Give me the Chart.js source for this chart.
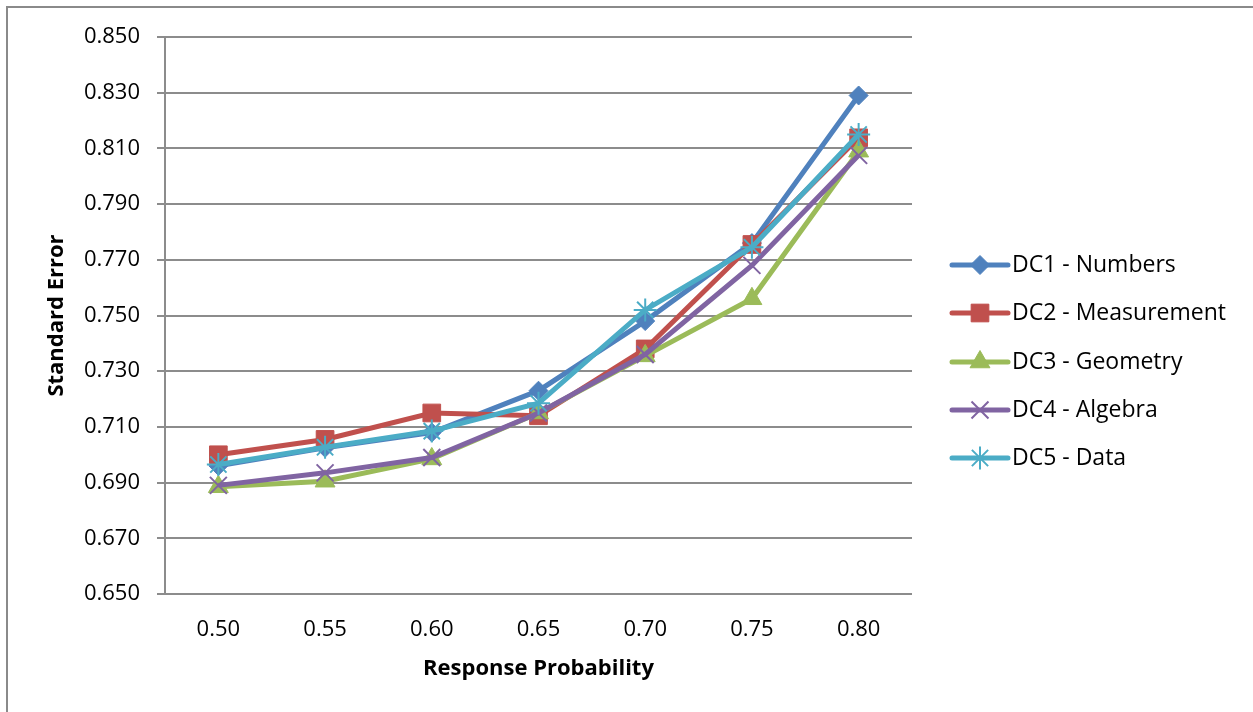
<!DOCTYPE html>
<html>
<head>
<meta charset="utf-8">
<script src="https://cdn.jsdelivr.net/npm/chart.js@4.4.0/dist/chart.umd.min.js"></script>
<style>
  html, body { margin: 0; padding: 0; background: #ffffff; }
  #wrap { width: 1253px; height: 712px; position: relative; }
</style>
</head>
<body>
<div id="wrap"><canvas id="c" width="1253" height="712"></canvas></div>
<script>
// Response probabilities (x categories)
const probabilities = ['0.50', '0.55', '0.60', '0.65', '0.70', '0.75', '0.80'];

// Standard error per domain cluster
const dc1Numbers     = [0.696, 0.7025, 0.708, 0.723, 0.748, 0.776, 0.829];
const dc2Measurement = [0.700, 0.7055, 0.715, 0.714, 0.738, 0.7755, 0.8138];
const dc3Geometry    = [0.6885, 0.6905, 0.6985, 0.715, 0.7355, 0.756, 0.809];
const dc4Algebra     = [0.689, 0.6935, 0.699, 0.715, 0.736, 0.768, 0.8075];
const dc5Data        = [0.6965, 0.7027, 0.7085, 0.7185, 0.752, 0.7745, 0.815];

const seriesNames = ['DC1 - Numbers', 'DC2 - Measurement', 'DC3 - Geometry', 'DC4 - Algebra', 'DC5 - Data'];
const seriesValues = [dc1Numbers, dc2Measurement, dc3Geometry, dc4Algebra, dc5Data];
const seriesColors = ['#4F81BD', '#C0504D', '#9BBB59', '#8064A2', '#4BACC6'];
const seriesMarkers = ['rectRot', 'rect', 'triangle', 'crossRot', 'star'];
const markerRadius = [9.5, 12.5, 11.5, 12, 11.5];
const markerBorder = [1, 1, 1, 2, 2];

// y axis range and step
const yMin = 0.650, yMax = 0.850, yStep = 0.020;

const FONT = "'Open Sans', 'Noto Sans', sans-serif";
const GRID = '#8c8c8c';

const datasets = seriesNames.map((name, i) => ({
  label: name,
  data: seriesValues[i],
  borderColor: seriesColors[i],
  backgroundColor: seriesColors[i],
  borderWidth: 5,
  pointStyle: seriesMarkers[i],
  pointRadius: markerRadius[i],
  pointHoverRadius: markerRadius[i],
  pointBorderWidth: markerBorder[i],
  pointBackgroundColor: seriesColors[i],
  pointBorderColor: seriesColors[i],
  tension: 0,
  order: seriesNames.length - i   // later series drawn on top
}));

// Outer frame and a legend that shows line + marker per series
const decorations = {
  id: 'decorations',
  afterDraw(chart) {
    const ctx = chart.ctx;
    ctx.save();
    ctx.strokeStyle = '#8a8a8a';
    ctx.lineWidth = 2;
    ctx.beginPath();
    ctx.moveTo(7, 720);
    ctx.lineTo(7, 7);
    ctx.lineTo(1260, 7);
    ctx.stroke();

    const x0 = 952, x1 = 1008, textX = 1012;
    const rowY = [265, 313, 362, 410, 458];
    seriesNames.forEach((name, i) => {
      const y = rowY[i];
      ctx.strokeStyle = seriesColors[i];
      ctx.fillStyle = seriesColors[i];
      ctx.lineWidth = 5;
      ctx.lineCap = 'round';
      ctx.beginPath();
      ctx.moveTo(x0, y);
      ctx.lineTo(x1, y);
      ctx.stroke();
      ctx.lineCap = 'butt';
      ctx.lineWidth = markerBorder[i];
      Chart.helpers.drawPoint(ctx, {
        pointStyle: seriesMarkers[i],
        radius: markerRadius[i],
        borderWidth: markerBorder[i],
        rotation: 0
      }, (x0 + x1) / 2, y);
      ctx.fillStyle = '#000000';
      ctx.font = '23px ' + FONT;
      ctx.textAlign = 'left';
      ctx.textBaseline = 'middle';
      ctx.fillText(name, textX, y);
    });
    ctx.restore();
  }
};

new Chart(document.getElementById('c'), {
  type: 'line',
  data: { labels: probabilities, datasets },
  options: {
    responsive: false,
    animation: false,
    layout: { padding: { left: 0, right: 341, top: 37, bottom: 0 } },
    plugins: {
      legend: { display: false },
      tooltip: { enabled: false }
    },
    scales: {
      x: {
        type: 'category',
        offset: true,
        grid: { display: false, drawTicks: false },
        border: { display: false },
        ticks: { color: '#000', font: { family: FONT, size: 22 }, padding: 23, maxRotation: 0 },
        title: {
          display: true,
          text: 'Response Probability',
          color: '#000',
          font: { family: FONT, size: 22, weight: 'bold' },
          padding: { top: 0, bottom: 30 }
        },
        afterFit(scale) { scale.height = 118; }
      },
      y: {
        min: yMin,
        max: yMax,
        grid: { color: GRID, lineWidth: 2, tickLength: 8, drawTicks: true },
        border: { color: GRID, width: 2 },
        ticks: {
          stepSize: yStep,
          color: '#000',
          font: { family: FONT, size: 22 },
          padding: 17,
          callback: v => Number(v).toFixed(3)
        },
        title: {
          display: true,
          text: 'Standard Error',
          color: '#000',
          font: { family: FONT, size: 22, weight: 'bold' },
          padding: { top: 44, bottom: 0 }
        },
        afterFit(scale) { scale.width = 165; }
      }
    }
  },
  plugins: [decorations]
});
</script>
</body>
</html>
